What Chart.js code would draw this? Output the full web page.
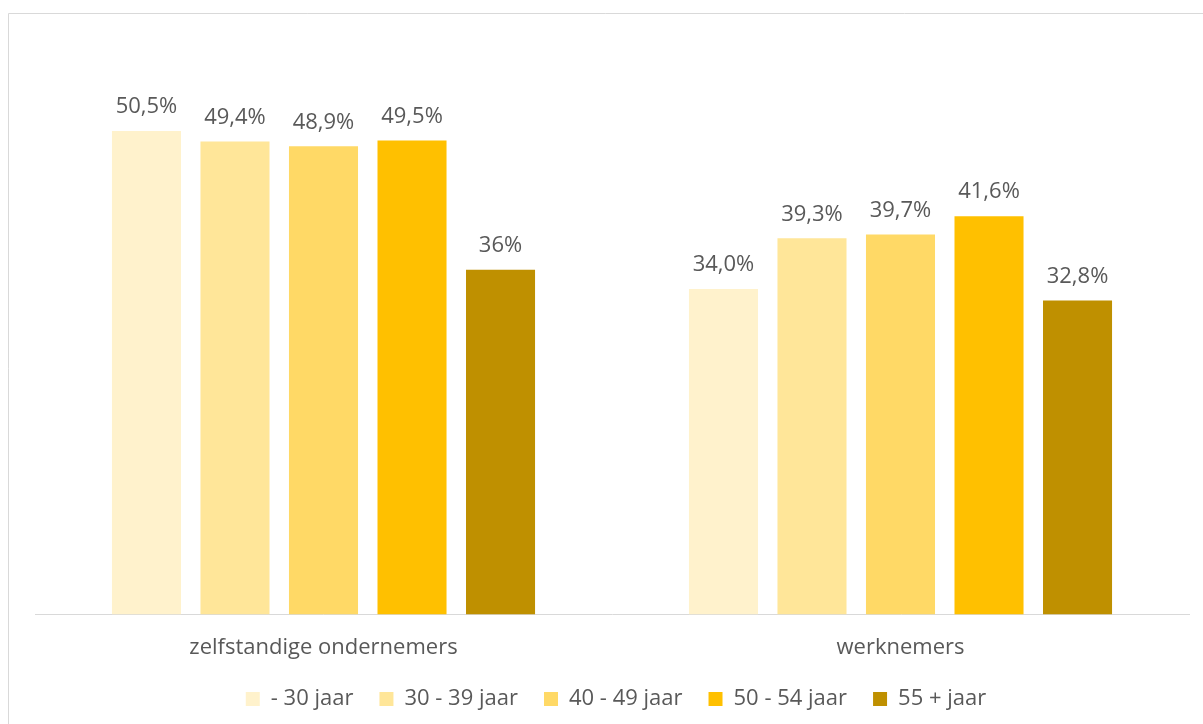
<!DOCTYPE html>
<html>
<head>
<meta charset="utf-8">
<script src="https://cdn.jsdelivr.net/npm/chart.js@4"></script>
<style>
html,body{margin:0;padding:0;background:#fff;}
canvas{display:block;}
</style>
</head>
<body>
<canvas id="c" width="1203" height="724"></canvas>
<script>
const categories = ["zelfstandige ondernemers", "werknemers"];
const seriesNames = ["- 30 jaar", "30 - 39 jaar", "40 - 49 jaar", "50 - 54 jaar", "55 + jaar"];
const s1 = [50.5, 34.0];
const s2 = [49.4, 39.3];
const s3 = [48.9, 39.7];
const s4 = [49.5, 41.6];
const s5 = [36.0, 32.8];
const labels1 = ["50,5%", "34,0%"];
const labels2 = ["49,4%", "39,3%"];
const labels3 = ["48,9%", "39,7%"];
const labels4 = ["49,5%", "41,6%"];
const labels5 = ["36%", "32,8%"];
const colors = ["#FFF2CC", "#FFE699", "#FFD966", "#FFC000", "#BF9000"];

const allValues = [s1, s2, s3, s4, s5];
const allLabels = [labels1, labels2, labels3, labels4, labels5];

const FONT = "'Open Sans', sans-serif";
const TEXT = "#595959";

const frame = {
  id: 'frame',
  beforeDraw(chart) {
    const ctx = chart.ctx;
    ctx.save();
    ctx.fillStyle = '#fff';
    ctx.fillRect(0, 0, chart.width, chart.height);
    ctx.strokeStyle = '#d9d9d9';
    ctx.lineWidth = 1;
    ctx.beginPath();
    ctx.moveTo(8.5, chart.height);
    ctx.lineTo(8.5, 13.5);
    ctx.lineTo(chart.width, 13.5);
    ctx.stroke();
    ctx.restore();
  }
};

const legendShift = {
  id: 'legendShift',
  afterLayout(chart) {
    if (chart.legend) {
      chart.legend.left += 4;
      chart.legend.right += 4;
    }
  }
};

const dataLabels = {
  id: 'dataLabels',
  afterDatasetsDraw(chart) {
    const ctx = chart.ctx;
    ctx.save();
    ctx.font = "22px " + FONT;
    ctx.fillStyle = TEXT;
    ctx.textAlign = 'center';
    ctx.textBaseline = 'middle';
    chart.data.datasets.forEach((ds, i) => {
      const meta = chart.getDatasetMeta(i);
      meta.data.forEach((bar, j) => {
        ctx.fillText(allLabels[i][j], bar.x, bar.y - 24);
      });
    });
    ctx.restore();
  }
};

new Chart(document.getElementById('c'), {
  type: 'bar',
  data: {
    labels: categories,
    datasets: seriesNames.map((n, i) => ({
      label: n,
      data: allValues[i],
      backgroundColor: colors[i],
      borderWidth: 0,
      categoryPercentage: 0.767,
      barPercentage: 0.78
    }))
  },
  options: {
    responsive: false,
    animation: false,
    devicePixelRatio: 1,
    layout: { padding: { left: 35, right: 14, top: 40, bottom: 4 } },
    scales: {
      y: { display: false, min: 0, max: 60 },
      x: {
        grid: { display: false, drawTicks: false },
        border: { display: true, color: '#d9d9d9', width: 1 },
        ticks: { font: { family: FONT, size: 22 }, color: TEXT, padding: 20 },
        afterFit(scale) { scale.height -= 19; }
      }
    },
    plugins: {
      legend: {
        position: 'bottom',
        labels: {
          font: { family: FONT, size: 22 },
          color: TEXT,
          boxWidth: 14,
          boxHeight: 14,
          padding: 26
        }
      },
      tooltip: { enabled: false }
    }
  },
  plugins: [frame, legendShift, dataLabels]
});
</script>
</body>
</html>
